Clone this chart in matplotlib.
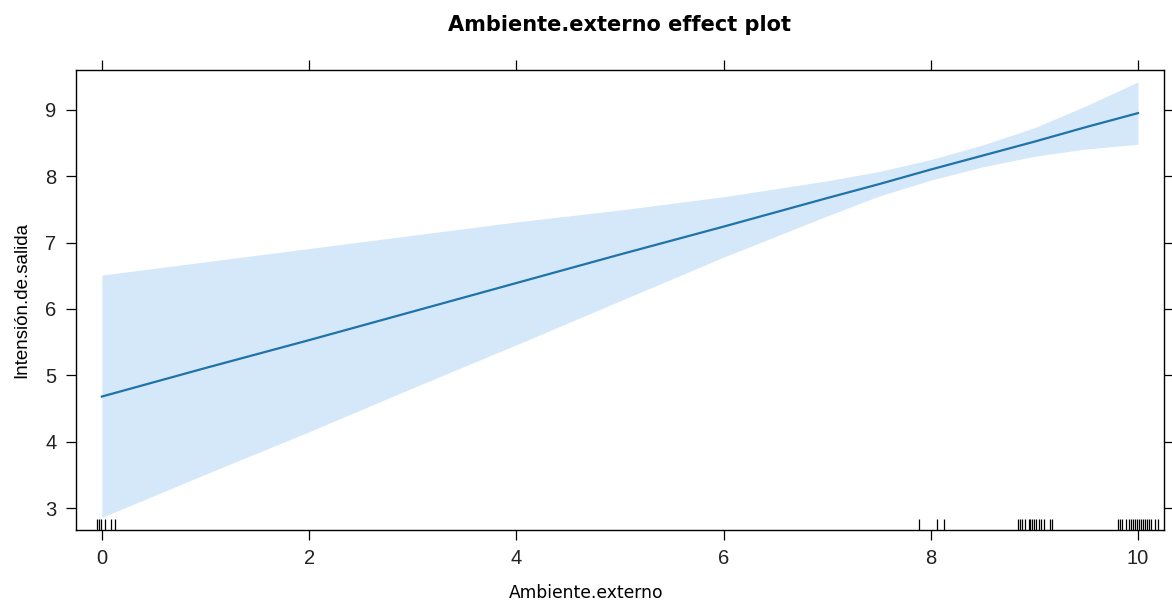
import matplotlib
matplotlib.use("Agg")
import matplotlib.pyplot as plt

# effect estimate and confidence band
x_grid = [0, 1, 2, 3, 4, 5, 6, 7, 7.5, 8, 8.5, 9, 9.5, 10]
fit = [4.68, 5.11, 5.53, 5.96, 6.39, 6.82, 7.24, 7.67, 7.88, 8.10, 8.31, 8.52, 8.74, 8.95]
upper = [6.51, 6.71, 6.91, 7.11, 7.31, 7.49, 7.69, 7.93, 8.07, 8.25, 8.47, 8.73, 9.06, 9.42]
lower = [2.86, 3.51, 4.15, 4.81, 5.46, 6.12, 6.78, 7.40, 7.70, 7.94, 8.14, 8.30, 8.41, 8.48]

# rug of observed values
rug = [-0.05, -0.03, -0.01, 0.03, 0.09, 0.13,
       7.89, 8.06, 8.13,
       8.84, 8.86, 8.88, 8.91, 8.95, 8.96, 8.98, 9.00, 9.02, 9.04, 9.06, 9.09, 9.15, 9.17,
       9.81, 9.83, 9.85, 9.88, 9.91, 9.93, 9.95, 9.97, 9.99, 10.01, 10.03, 10.05,
       10.07, 10.09, 10.11, 10.13, 10.16, 10.19]

xticks = [0, 2, 4, 6, 8, 10]
yticks = [3, 4, 5, 6, 7, 8, 9]

fig = plt.figure(figsize=(11.72, 6), dpi=100)
ax = fig.add_axes([0.0648, 0.1167, 0.9283, 0.7667])

ax.fill_between(x_grid, lower, upper, color="#d5e8f9", linewidth=0)
ax.plot(x_grid, fit, color="#1f73a8", linewidth=1.6)

# rug ticks standing on the bottom of the panel
ax.vlines(rug, 0, 0.024, color="black", linewidth=0.9,
          transform=ax.get_xaxis_transform())

ax.set_xlim(-0.25, 10.25)
ax.set_ylim(2.67, 9.6)
ax.set_xticks(xticks)
ax.set_yticks(yticks)

ax.tick_params(direction="out", length=7, width=0.9, colors="black", pad=7,
               labelsize=14.5, top=True, right=True, labeltop=False, labelright=False)
for lab in ax.get_xticklabels() + ax.get_yticklabels():
    lab.set_fontfamily("Liberation Sans")
    lab.set_color("#222222")
for sp in ax.spines.values():
    sp.set_linewidth(1.0)

ax.set_xlabel("Ambiente.externo", fontsize=12.3, family="DejaVu Sans")
ax.xaxis.set_label_coords(0.469, -0.117)
ax.set_ylabel("Intensión.de.salida", fontsize=13.5, family="Liberation Sans",
              labelpad=11)
ax.set_title("Ambiente.externo effect plot", fontsize=15, fontweight="bold",
             family="DejaVu Sans", pad=28)

fig.savefig("out.png", dpi=100)
